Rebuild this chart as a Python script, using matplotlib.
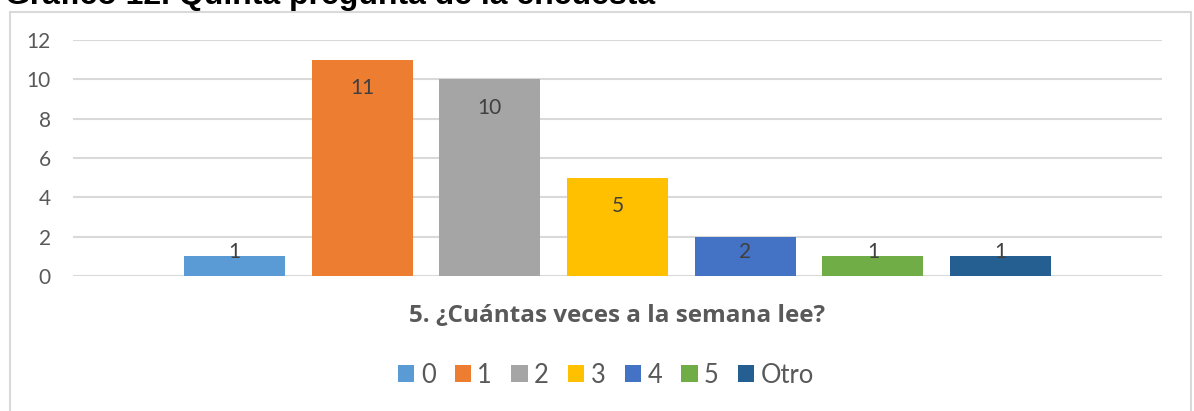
import matplotlib
import matplotlib.pyplot as plt
from matplotlib.patches import Rectangle, Patch

categories = ['0', '1', '2', '3', '4', '5', 'Otro']
values = [1, 11, 10, 5, 2, 1, 1]
colors = ['#5B9BD5', '#ED7D31', '#A5A5A5', '#FFC000', '#4472C4', '#70AD47', '#255E91']
y_ticks = [0, 2, 4, 6, 8, 10, 12]

title = 'Gráfico 12. Quinta pregunta de la encuesta'
axis_title = '5. ¿Cuántas veces a la semana lee?'

W, H = 1194, 411


def draw_plot():
  matplotlib.rcParams.update({'font.family': ['Lato', 'DejaVu Sans']})
  fig = plt.figure(figsize=(W / 100, H / 100), dpi=100)
  ax = fig.add_axes([73 / W, 1 - 276 / H, (1162 - 73) / W, (276 - 40) / H])

  n = len(values)
  xs = [i - (n - 1) / 2 for i in range(n)]
  ax.bar(xs, values, width=0.79, color=colors, zorder=2)
  for x, v in zip(xs, values):
    ax.text(x, max(v - 1.45, 1.2), str(v), ha='center', va='center',
            fontsize=15, color='#404040', zorder=3)

  ax.set_xlim(xs[0] - 1.265, xs[-1] + 1.265)
  ax.set_ylim(0, 12)
  ax.set_yticks(y_ticks)
  ax.set_xticks([])
  ax.grid(axis='y', color='#D9D9D9', linewidth=1.5, zorder=0)
  for s in ax.spines.values():
    s.set_visible(False)
  ax.tick_params(axis='y', length=0, pad=16, labelsize=15, labelcolor='#595959')

  # chart frame
  fig.patches.append(Rectangle((10 / W, -0.05), (1191 - 10) / W, 1.05 - 12 / H,
                               transform=fig.transFigure, fill=False,
                               edgecolor='#D9D9D9', linewidth=1.5))

  # document caption, cut off at the top edge like the source screenshot
  fig.text(5 / W, 1 - 4 / H, title, ha='left', va='baseline',
           fontsize=23, fontweight='bold', color='black',
           family=['Liberation Sans', 'DejaVu Sans'])
  fig.text(617.5 / W, 1 - 316 / H, axis_title, ha='center', va='center',
           fontsize=17.5, fontweight='bold', color='#595959',
           family=['Open Sans', 'DejaVu Sans'])

  handles = [Patch(facecolor=c, edgecolor='none') for c in colors]
  fig.legend(handles, categories, loc='center', bbox_to_anchor=(606 / W, 1 - 375 / H),
             ncol=n, frameon=False, fontsize=18.4, labelcolor='#595959',
             handlelength=0.64, handleheight=0.64, handletextpad=0.25,
             columnspacing=0.75, borderaxespad=0)

  plt.savefig('out.png', dpi=100)


if __name__ == "__main__":
  draw_plot()
